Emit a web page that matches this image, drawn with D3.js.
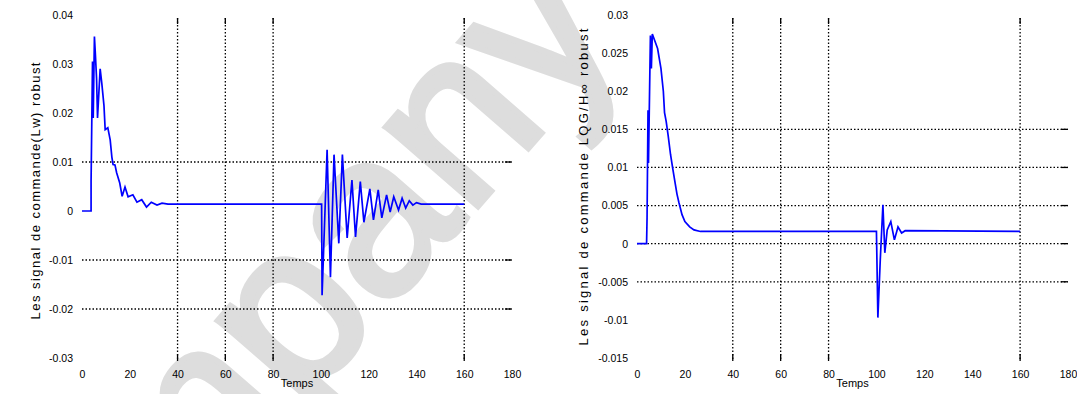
<!DOCTYPE html>
<html>
<head>
<meta charset="utf-8">
<script src="https://cdn.jsdelivr.net/npm/d3@7"></script>
<style>
  body { margin: 0; background: #fff; }
  svg { display: block; font-family: "Liberation Sans", Arial, sans-serif; }
</style>
</head>
<body>
<svg id="chart" width="1077" height="394"></svg>
<script>
// x ticks shared by both panels
const xTicks = [0, 20, 40, 60, 80, 100, 120, 140, 160, 180];
const xGrid = [40, 60, 80, 160];

// left panel: robust (Lw) control
const leftTicks = [-0.03, -0.02, -0.01, 0, 0.01, 0.02, 0.03, 0.04];
const leftGrid = [0.01, -0.01, -0.02];
const leftT = [0, 3.8, 3.8, 4.4, 4.7, 5.2, 5.6, 6.1, 6.5, 7.6, 8.3, 9.2, 9.7, 10.8, 11.8, 12.5, 13, 13.8, 14.5, 15.8, 16.8, 18, 19.3, 21.3, 23, 25, 27, 29, 31.4, 33.5, 36,
  100.3, 100.5, 102.6, 104, 105.5, 107.5, 109, 111, 113, 114.5, 116.5, 118, 120.5, 122, 124, 125.5, 127.5, 129, 130.5, 132.5, 134, 135.5, 137, 138.5, 140, 142, 160];
const leftV = [0, 0, 0.006, 0.0305, 0.019, 0.0356, 0.032, 0.027, 0.019, 0.029, 0.026, 0.0215, 0.0166, 0.017, 0.0145, 0.011, 0.0095, 0.0094, 0.0078, 0.0057, 0.003, 0.0049, 0.0029, 0.0033, 0.0018, 0.0023, 0.0008, 0.0018, 0.0012, 0.0016, 0.0014,
  0.0014, -0.0172, 0.0125, -0.0135, 0.0115, -0.0066, 0.0115, -0.0055, 0.0063, -0.0053, 0.006, -0.0023, 0.0045, -0.0018, 0.0043, -0.0014, 0.0033, -0.0002, 0.0029, 0.0002, 0.0026, 0.0006, 0.0021, 0.0012, 0.0017, 0.0014, 0.0014];

// right panel: LQG/H-inf robust control
const rightTicks = [-0.015, -0.01, -0.005, 0, 0.005, 0.01, 0.015, 0.02, 0.025, 0.03];
const rightGrid = [0.015, 0.01, 0.005, 0, -0.005];
const rightT = [0, 4, 4.2, 4.6, 4.8, 5.6, 6, 6.4, 8.6, 10, 11, 11.5, 12.2, 13, 14, 15, 16, 16.7, 17.5, 18.8, 20, 22, 23.8, 26.5,
  100, 100.6, 101.6, 102.7, 103.5, 104.5, 106, 107.5, 109, 110.5, 112, 160];
const rightV = [0, 0, 0.0034, 0.0175, 0.0106, 0.0273, 0.023, 0.0275, 0.0256, 0.023, 0.02, 0.0172, 0.016, 0.0142, 0.0117, 0.0097, 0.0078, 0.0065, 0.0054, 0.0038, 0.0029, 0.0022, 0.0018, 0.0016,
  0.0016, -0.0097, -0.0021, 0.0051, -0.0012, 0.0018, 0.0029, 0.0005, 0.0022, 0.0014, 0.0017, 0.0016];

const svg = d3.select("#chart");

// watermark behind everything
svg.append("text")
  .attr("transform", "translate(174,556) rotate(-49)")
  .attr("font-size", 230)
  .attr("font-family", "Liberation Sans, Arial, sans-serif")
  .attr("fill", "#dddddd")
  .attr("stroke", "#dddddd")
  .attr("stroke-width", 6)
  .text("mpany");

const panels = [
  {
    left: 82, right: 512, top: 15, bottom: 358,
    yDomain: [-0.03, 0.04], yTicks: leftTicks, yGrid: leftGrid,
    t: leftT, v: leftV,
    yLabel: "Les signal de commande(Lw) robust", yLabelX: 35, yLabelY: 191, yLabelLen: 257,
  },
  {
    left: 637, right: 1068, top: 15, bottom: 358,
    yDomain: [-0.015, 0.03], yTicks: rightTicks, yGrid: rightGrid,
    t: rightT, v: rightV,
    yLabel: "Les signal de commande LQG/H\u221e robust", yLabelX: 583, yLabelY: 187, yLabelLen: 317,
  },
];

panels.forEach((p) => {
  const x = d3.scaleLinear().domain([0, 180]).range([p.left, p.right]);
  const y = d3.scaleLinear().domain(p.yDomain).range([p.bottom, p.top]);
  const g = svg.append("g");

  // grid (dotted) with short solid ticks at ends
  g.selectAll("line.vgrid")
    .data(xGrid)
    .join("line")
    .attr("x1", (d) => x(d)).attr("x2", (d) => x(d))
    .attr("y1", p.top + 3).attr("y2", p.bottom + 3)
    .attr("stroke", "#000")
    .attr("stroke-width", 1.3)
    .attr("stroke-dasharray", "1.5,2");
  g.selectAll("line.vtick")
    .data(xGrid.flatMap((d) => [[d, p.bottom - 4, p.bottom + 3], [d, p.top + 3, p.top + 9]]))
    .join("line")
    .attr("x1", (d) => x(d[0])).attr("x2", (d) => x(d[0]))
    .attr("y1", (d) => d[1]).attr("y2", (d) => d[2])
    .attr("stroke", "#000")
    .attr("stroke-width", 1.3);

  g.selectAll("line.hgrid")
    .data(p.yGrid)
    .join("line")
    .attr("x1", p.left).attr("x2", p.right)
    .attr("y1", (d) => y(d)).attr("y2", (d) => y(d))
    .attr("stroke", "#000")
    .attr("stroke-width", 1.3)
    .attr("stroke-dasharray", "1.5,2");
  g.selectAll("line.htick")
    .data(p.yGrid)
    .join("line")
    .attr("x1", p.right - 7).attr("x2", p.right)
    .attr("y1", (d) => y(d)).attr("y2", (d) => y(d))
    .attr("stroke", "#000")
    .attr("stroke-width", 1.3);

  // axes: labels only
  const xAxis = g.append("g")
    .attr("transform", `translate(0,${p.bottom + 10})`)
    .call(d3.axisBottom(x).tickValues(xTicks).tickSize(0).tickFormat(d3.format("d")));
  const yAxis = g.append("g")
    .attr("transform", `translate(${p.left - 6},0)`)
    .call(d3.axisLeft(y).tickValues(p.yTicks).tickSize(0).tickFormat((d) => (d === 0 ? "0" : String(+d.toFixed(3)))));
  [xAxis, yAxis].forEach((a) => {
    a.select(".domain").remove();
    a.selectAll("text").attr("font-size", 10.5).attr("font-family", "Liberation Sans, Arial, sans-serif").attr("fill", "#000");
  });

  // data line
  const line = d3.line().x((d) => x(d[0])).y((d) => y(d[1]));
  g.append("path")
    .attr("d", line(p.t.map((t, i) => [t, p.v[i]])))
    .attr("fill", "none")
    .attr("stroke", "#0000ff")
    .attr("stroke-width", 1.7);

  // axis titles
  g.append("text")
    .attr("x", (p.left + p.right) / 2)
    .attr("y", 387)
    .attr("text-anchor", "middle")
    .attr("font-size", 11)
    .text("Temps");
  g.append("text")
    .attr("transform", `translate(${p.yLabelX},${p.yLabelY}) rotate(-90)`)
    .attr("text-anchor", "middle")
    .attr("dominant-baseline", "central")
    .attr("font-size", 13)
    .attr("textLength", p.yLabelLen)
    .attr("lengthAdjust", "spacing")
    .text(p.yLabel);
});
</script>
</body>
</html>
